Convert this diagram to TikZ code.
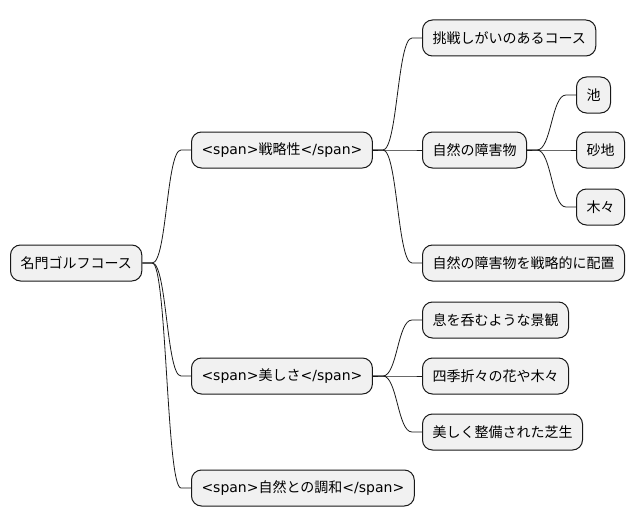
\documentclass[tikz,border=0pt]{standalone}
\usepackage{fontspec}
\setmainfont{DejaVu Sans}
\newfontfamily\cjk{Noto Sans CJK JP}
\definecolor{boxfill}{HTML}{F1F1F1}
\definecolor{boxline}{HTML}{181818}
\tikzset{
  mm/.style={draw=boxline, fill=boxfill, rounded corners=10pt, minimum height=36pt,
    inner xsep=10pt, inner ysep=0pt, anchor=west, line width=1pt,
    font=\fontsize{14}{17}\selectfont},
  jp/.style={mm, font=\fontsize{14}{17}\selectfont\cjk},
  link/.style={draw=boxline, line width=0.8pt}
}
\newcommand\mmlink[2]{\draw[link] (#1.east) -- ++(10,0) .. controls +(14.5,0) and +(-14.5,0) .. ([xshift=-10pt]#2.west) -- (#2.west);}
\begin{document}
\begin{tikzpicture}[x=1pt,y=-1pt]
\useasboundingbox (0,0) rectangle (635,527);
\node[jp] (root) at (10,263) {名門ゴルフコース};
\node[mm] (a) at (191,150) {<span>{\cjk 戦略性}</span>};
\node[mm] (b) at (191,376) {<span>{\cjk 美しさ}</span>};
\node[mm] (c) at (191,488) {<span>{\cjk 自然との調和}</span>};
\node[jp] (a1) at (422,38) {挑戦しがいのあるコース};
\node[jp] (a2) at (422,150) {自然の障害物};
\node[jp] (a3) at (422,263) {自然の障害物を戦略的に配置};
\node[jp] (a21) at (576,95) {池};
\node[jp] (a22) at (576,150) {砂地};
\node[jp] (a23) at (576,207) {木々};
\node[jp] (b1) at (422,320) {息を呑むような景観};
\node[jp] (b2) at (422,376) {四季折々の花や木々};
\node[jp] (b3) at (422,432) {美しく整備された芝生};
\mmlink{root}{a}
\mmlink{root}{b}
\mmlink{root}{c}
\mmlink{a}{a1}
\mmlink{a}{a2}
\mmlink{a}{a3}
\mmlink{a2}{a21}
\mmlink{a2}{a22}
\mmlink{a2}{a23}
\mmlink{b}{b1}
\mmlink{b}{b2}
\mmlink{b}{b3}
\end{tikzpicture}
\end{document}
